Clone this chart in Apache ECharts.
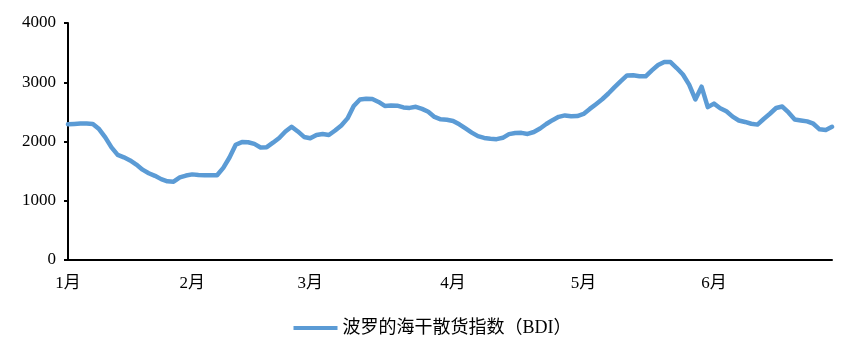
<!DOCTYPE html>
<html>
<head>
<meta charset="utf-8">
<script src="https://cdn.jsdelivr.net/npm/echarts@6/dist/echarts.min.js"></script>
<style>
  html, body { margin: 0; padding: 0; background: #fff; }
  #chart { width: 865px; height: 354px; }
</style>
</head>
<body>
<div id="chart"></div>
<script>
// 每月交易日的BDI读数
var jan = [2290, 2297, 2304, 2304, 2297, 2210, 2070, 1900, 1775, 1733, 1680, 1610, 1525, 1465, 1420, 1365, 1328, 1322, 1393, 1425];
var feb = [1445, 1435, 1432, 1430, 1430, 1555, 1730, 1945, 1990, 1988, 1960, 1900, 1905, 1980, 2060, 2170, 2250, 2170, 2077];
var mar = [2055, 2110, 2125, 2110, 2185, 2270, 2390, 2600, 2710, 2722, 2716, 2668, 2600, 2606, 2605, 2575, 2567, 2585, 2550, 2503, 2415, 2375, 2367];
var apr = [2347, 2290, 2220, 2150, 2090, 2060, 2045, 2040, 2062, 2125, 2143, 2146, 2128, 2160, 2220, 2295, 2360, 2416, 2440, 2427, 2430];
var may = [2465, 2550, 2630, 2713, 2810, 2918, 3020, 3115, 3118, 3102, 3100, 3200, 3290, 3342, 3340, 3240, 3130, 2960, 2710, 2925, 2580];
var jun = [2640, 2562, 2510, 2420, 2355, 2330, 2300, 2285, 2380, 2468, 2565, 2590, 2490, 2370, 2355, 2340, 2300, 2205, 2195, 2248];
var monthNames = ['1月', '2月', '3月', '4月', '5月', '6月'];
var yTicks = [0, 1000, 2000, 3000, 4000];

var months = [jan, feb, mar, apr, may, jun];
var categories = [];
var bdi = [];
var firstIdx = {};
months.forEach(function (arr, m) {
  firstIdx[categories.length] = true;
  arr.forEach(function (v, d) {
    categories.push(monthNames[m] + '-' + (d + 1));
    bdi.push(v);
  });
});

var serif = "'Times New Roman', 'Liberation Serif', 'Noto Sans CJK SC', serif";

var myChart = echarts.init(document.getElementById('chart'));
myChart.setOption({
  animation: false,
  grid: { left: 68, right: 33, top: 23, bottom: 94 },
  legend: {
    data: ['波罗的海干散货指数（BDI）'],
    top: 314,
    left: 'center',
    icon: 'rect',
    itemWidth: 44,
    itemHeight: 4,
    itemGap: 4,
    textStyle: { color: '#000', fontSize: 18, fontFamily: serif }
  },
  xAxis: {
    type: 'category',
    boundaryGap: false,
    data: categories,
    axisLine: { lineStyle: { color: '#000', width: 2 } },
    axisTick: { show: false },
    axisLabel: {
      color: '#000',
      fontSize: 17,
      fontFamily: serif,
      margin: 15,
      interval: function (index) { return !!firstIdx[index]; },
      formatter: function (val) { return val.split('-')[0]; }
    },
    splitLine: { show: false }
  },
  yAxis: {
    type: 'value',
    min: yTicks[0],
    max: yTicks[yTicks.length - 1],
    interval: 1000,
    axisLine: { show: true, lineStyle: { color: '#000', width: 2 } },
    axisTick: { show: true, length: 4, lineStyle: { color: '#000', width: 2 } },
    axisLabel: {
      color: '#000',
      fontSize: 17,
      fontFamily: serif,
      margin: 12,
      formatter: function (v) { return String(v); }
    },
    splitLine: { show: false }
  },
  series: [
    {
      name: '波罗的海干散货指数（BDI）',
      type: 'line',
      data: bdi,
      symbol: 'none',
      smooth: false,
      lineStyle: { color: '#5B9BD5', width: 4.5, join: 'round', cap: 'round' },
      itemStyle: { color: '#5B9BD5' }
    }
  ]
});
</script>
</body>
</html>
